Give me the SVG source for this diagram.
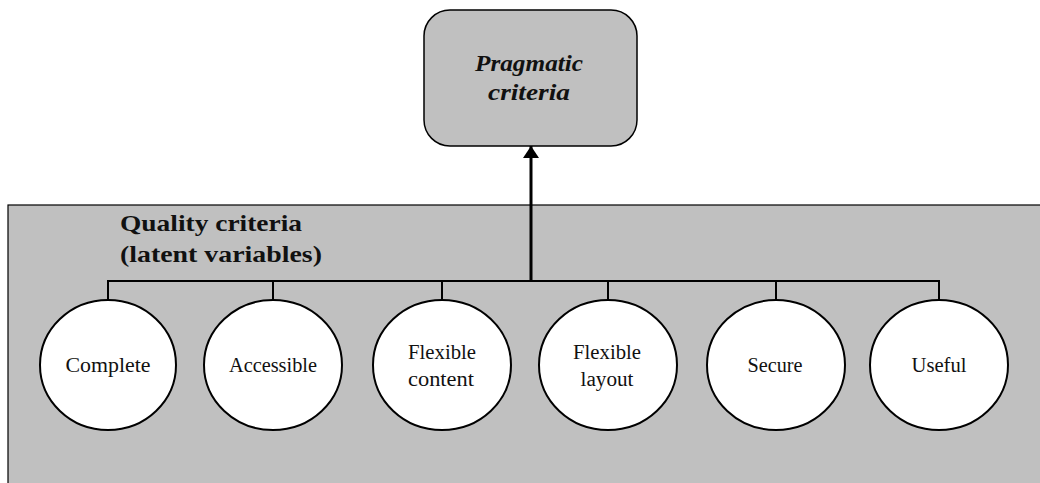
<svg xmlns="http://www.w3.org/2000/svg" width="1040" height="483" viewBox="0 0 1040 483">
  <style>
    .panel { fill: #c0c0c0; stroke: #000; stroke-width: 1.2; }
    .box { fill: #c0c0c0; stroke: #000; stroke-width: 1.5; }
    .latent { fill: #fff; stroke: #000; stroke-width: 2; }
    .wire { fill: none; stroke: #000; stroke-width: 2; }
    .main { fill: none; stroke: #000; stroke-width: 3; }
    text { font-family: "Liberation Serif", Tinos, "Times New Roman", Times, serif; fill: #111; }
    .lbl { font-size: 20px; text-anchor: middle; }
    .title { font-size: 24px; font-weight: bold; }
    .prag { font-size: 23px; font-weight: bold; font-style: italic; text-anchor: middle; }
  </style>
  <defs>
    <marker id="arrow" viewBox="0 0 12 16" refX="12" refY="8" markerWidth="12" markerHeight="16" markerUnits="userSpaceOnUse" orient="auto">
      <path d="M0,0 L12,8 L0,16 Z" fill="#000"/>
    </marker>
  </defs>

  <!-- background panel for the latent variables -->
  <rect class="panel" x="8" y="205" width="1040" height="290"/>
  <g id="panel-title">
    <text class="title" x="120" y="231" textLength="182" lengthAdjust="spacingAndGlyphs">Quality criteria</text>
    <text class="title" x="120" y="262" textLength="202" lengthAdjust="spacingAndGlyphs">(latent variables)</text>
  </g>

  <!-- connectors -->
  <g id="connectors">
    <path class="wire" d="M108,300 V281 H939 V300"/>
    <path class="wire" d="M273,281 V300 M442,281 V300 M608,281 V300 M776,281 V300"/>
    <line class="main" x1="531" y1="281" x2="531" y2="146" marker-end="url(#arrow)"/>
  </g>

  <!-- target construct -->
  <g id="pragmatic">
    <rect class="box" x="424" y="10" width="213" height="136" rx="26" ry="26"/>
    <text class="prag" x="529" y="71" textLength="108" lengthAdjust="spacingAndGlyphs">Pragmatic</text>
    <text class="prag" x="529" y="100" textLength="82" lengthAdjust="spacingAndGlyphs">criteria</text>
  </g>

  <!-- latent variables -->
  <g id="complete">
    <ellipse class="latent" cx="108" cy="365" rx="68" ry="65"/>
    <text class="lbl" x="108" y="372" textLength="85" lengthAdjust="spacingAndGlyphs">Complete</text>
  </g>
  <g id="accessible">
    <ellipse class="latent" cx="273" cy="365" rx="69" ry="65"/>
    <text class="lbl" x="273" y="372" textLength="88" lengthAdjust="spacingAndGlyphs">Accessible</text>
  </g>
  <g id="flexible-content">
    <ellipse class="latent" cx="442" cy="365" rx="69" ry="65"/>
    <text class="lbl" x="442" y="359" textLength="68" lengthAdjust="spacingAndGlyphs">Flexible</text>
    <text class="lbl" x="441" y="386" textLength="66" lengthAdjust="spacingAndGlyphs">content</text>
  </g>
  <g id="flexible-layout">
    <ellipse class="latent" cx="608" cy="365" rx="69" ry="65"/>
    <text class="lbl" x="607" y="359" textLength="68" lengthAdjust="spacingAndGlyphs">Flexible</text>
    <text class="lbl" x="607" y="386" textLength="53" lengthAdjust="spacingAndGlyphs">layout</text>
  </g>
  <g id="secure">
    <ellipse class="latent" cx="776" cy="365" rx="69" ry="65"/>
    <text class="lbl" x="775" y="372" textLength="55" lengthAdjust="spacingAndGlyphs">Secure</text>
  </g>
  <g id="useful">
    <ellipse class="latent" cx="939" cy="365" rx="69" ry="65"/>
    <text class="lbl" x="939" y="372" textLength="55" lengthAdjust="spacingAndGlyphs">Useful</text>
  </g>
</svg>
